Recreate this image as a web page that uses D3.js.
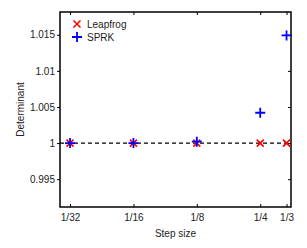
<!DOCTYPE html>
<html><head><meta charset="utf-8">
<script src="https://cdn.jsdelivr.net/npm/d3@7"></script>
<style>body{margin:0;background:#fff}svg{display:block;font-family:"Liberation Sans",Arial,sans-serif}</style>
</head><body><svg width="307" height="248"></svg>
<script>
const stepSizes = [1/32, 1/16, 1/8, 1/4, 1/3];
const stepLabels = ["1/32", "1/16", "1/8", "1/4", "1/3"];
const leapfrog = [1, 1, 1, 1, 1];
const sprk = [1, 1, 1.0002, 1.0042, 1.0149];
const yTicks = [0.995, 1, 1.005, 1.01, 1.015];
const yTickLabels = ["0.995", "1", "1.005", "1.01", "1.015"];

const svg = d3.select("svg");
const L = 60, R = 291, T = 12, B = 207;
const x = d3.scaleLog().domain([0.028, 0.35]).range([L, R]);
const y = d3.scaleLinear().domain([0.99115, 1.01815]).range([B, T]);

// dashed reference line
svg.append("line").attr("x1", L).attr("x2", R).attr("y1", y(1)).attr("y2", y(1))
  .attr("stroke", "#000").attr("stroke-width", 1.2).attr("stroke-dasharray", "4,3");

const g = svg.append("g");
// frame
g.append("rect").attr("x", L).attr("y", T).attr("width", R - L).attr("height", B - T)
  .attr("fill", "none").attr("stroke", "#000").attr("stroke-width", 1.5);

// x ticks bottom/top (inward)
const xa = d3.axisBottom(x).tickValues(stepSizes).tickFormat((d, i) => stepLabels[i]).tickSizeInner(-3).tickSizeOuter(0).tickPadding(7);
const gx = svg.append("g").attr("transform", `translate(0,${B})`).call(xa);
gx.select(".domain").remove();
gx.selectAll("text").attr("font-size", 10).attr("fill", "#222").attr("font-family", "Liberation Sans, Arial, sans-serif");
const xt = d3.axisTop(x).tickValues(stepSizes).tickFormat("").tickSizeInner(-3).tickSizeOuter(0);
const gxt = svg.append("g").attr("transform", `translate(0,${T})`).call(xt);
gxt.select(".domain").remove();

// y ticks left / right
const ya = d3.axisLeft(y).tickValues(yTicks).tickFormat((d, i) => yTickLabels[i]).tickSizeInner(3).tickSizeOuter(0).tickPadding(2);
const gy = svg.append("g").attr("transform", `translate(${L},0)`).call(ya);
gy.select(".domain").remove();
gy.selectAll("text").attr("font-size", 10).attr("fill", "#222").attr("font-family", "Liberation Sans, Arial, sans-serif");
const yr = d3.axisRight(y).tickValues(yTicks).tickFormat("").tickSizeInner(-3).tickSizeOuter(0);
const gyr = svg.append("g").attr("transform", `translate(${R},0)`).call(yr);
gyr.select(".domain").remove();

// markers
function xMark(sel, cx, cy, s, color) {
  sel.append("path").attr("d", `M${cx - s},${cy - s}L${cx + s},${cy + s}M${cx - s},${cy + s}L${cx + s},${cy - s}`)
    .attr("stroke", color).attr("stroke-width", 1.6).attr("fill", "none");
}
function plusMark(sel, cx, cy, s, color) {
  sel.append("path").attr("d", `M${cx - s},${cy}L${cx + s},${cy}M${cx},${cy - s}L${cx},${cy + s}`)
    .attr("stroke", color).attr("stroke-width", 1.8).attr("fill", "none");
}
const mk = svg.append("g");
stepSizes.forEach((s, i) => xMark(mk, x(s), y(leapfrog[i]), 3.5, "#ff0000"));
stepSizes.forEach((s, i) => plusMark(mk, x(s), y(sprk[i]), 5, "#0000ff"));

// legend
const lg = svg.append("g");
xMark(lg, 77, 24, 3.5, "#ff0000");
plusMark(lg, 77, 37, 5, "#0000ff");
lg.append("text").attr("x", 87).attr("y", 28).attr("font-size", 10).attr("fill", "#222").text("Leapfrog");
lg.append("text").attr("x", 87).attr("y", 41).attr("font-size", 10).attr("fill", "#222").text("SPRK");

// axis labels
svg.append("text").attr("x", (L + R) / 2).attr("y", 237).attr("text-anchor", "middle").attr("font-size", 10).attr("fill", "#222").text("Step size");
svg.append("text").attr("transform", `translate(24,${(T + B) / 2}) rotate(-90)`).attr("text-anchor", "middle").attr("font-size", 10).attr("fill", "#222").text("Determinant");
</script></body></html>
